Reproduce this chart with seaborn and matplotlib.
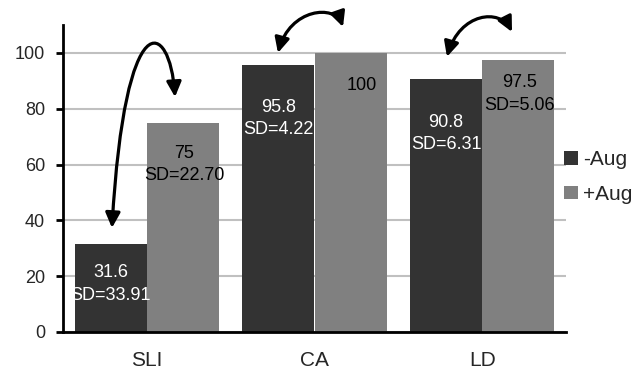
import matplotlib
matplotlib.use("Agg")
import matplotlib.pyplot as plt
import seaborn as sns
import pandas as pd
from matplotlib.patches import FancyArrowPatch, Patch
from matplotlib.path import Path

# ---- data ----
categories = ["SLI", "CA", "LD"]
series = ["-Aug", "+Aug"]
minus_aug = [31.6, 95.8, 90.8]
plus_aug = [75, 100, 97.5]
minus_sd = ["33.91", "4.22", "6.31"]
plus_sd = ["22.70", None, "5.06"]
y_ticks = [0, 20, 40, 60, 80, 100]

# ---- layout (annotation placement) ----
label_y_minus = [17.2, 76.5, 71.0]
label_y_plus = [59.9, 88.5, 85.3]
label_dx_plus = [0.01, 0.065, 0.01]
arrow_paths = [
    [(-0.208, 37.3), (-0.130, 119.0), (0.138, 111.8), (0.168, 84.2)],
    [(0.782, 100.0), (0.854, 116.0), (1.122, 117.5), (1.170, 109.3)],
    [(1.790, 98.6), (1.868, 114.5), (2.106, 116.0), (2.178, 107.5)],
]
colors = ["#333333", "#808080"]

df = pd.DataFrame({
    "group": categories * 2,
    "cond": [series[0]] * 3 + [series[1]] * 3,
    "value": minus_aug + plus_aug,
})

sns.set_style("white")
plt.rcParams["font.family"] = ["Liberation Sans", "DejaVu Sans"]

fig = plt.figure(figsize=(6.37, 3.73), dpi=100)
ax = fig.add_axes([63 / 637, 1 - 332 / 373, 503 / 637, 307 / 373])
sns.barplot(data=df, x="group", y="value", hue="cond", palette=colors,
            width=0.86, saturation=1, ax=ax, legend=False, linewidth=0,
            errorbar=None, zorder=2)

ax.set_xlim(-0.5, 2.5)
ax.set_ylim(0, 110)
ax.set_xlabel("")
ax.set_ylabel("")
ax.set_yticks(y_ticks)
ax.set_yticklabels([str(t) for t in y_ticks], fontsize=13)
ax.yaxis.grid(True, color="#c0c0c0", lw=1.5)
ax.xaxis.grid(False)
ax.set_axisbelow(True)
for s in ["top", "right"]:
    ax.spines[s].set_visible(False)
for s in ["left", "bottom"]:
    ax.spines[s].set_linewidth(2)
    ax.spines[s].set_color("black")

ax.set_xticks([-0.5, 0.5, 1.5, 2.5])
ax.set_xticklabels([])
ax.set_xticks([0, 1, 2], minor=True)
ax.set_xticklabels(categories, minor=True, fontsize=15)
ax.tick_params(axis="x", which="major", length=6, width=2, direction="out", color="black")
ax.tick_params(axis="x", which="minor", length=0, pad=14)
ax.tick_params(axis="y", length=5, width=2, direction="out", pad=8, color="black", left=True)

# bar value labels
bars_minus = ax.containers[0]
bars_plus = ax.containers[1]
for i, bar in enumerate(bars_minus):
    cx = bar.get_x() + bar.get_width() / 2
    txt = f"{minus_aug[i]:g}\nSD={minus_sd[i]}"
    ax.text(cx, label_y_minus[i], txt, ha="center", va="center", color="white",
            fontsize=13, linespacing=1.4, zorder=3)
for i, bar in enumerate(bars_plus):
    cx = bar.get_x() + bar.get_width() / 2 + label_dx_plus[i]
    txt = f"{plus_aug[i]:g}" + (f"\nSD={plus_sd[i]}" if plus_sd[i] else "")
    ax.text(cx, label_y_plus[i], txt, ha="center", va="center", color="black",
            fontsize=13, linespacing=1.4, zorder=3)

# curved double-headed arrows
codes = [Path.MOVETO, Path.CURVE4, Path.CURVE4, Path.CURVE4]
for pts in arrow_paths:
    arr = FancyArrowPatch(path=Path(pts, codes),
                          arrowstyle="<|-|>,head_length=0.45,head_width=0.22",
                          mutation_scale=20, lw=2.3, color="black",
                          transform=ax.transData, clip_on=False, zorder=4)
    ax.add_patch(arr)

handles = [Patch(facecolor=c, edgecolor="none", label=l) for c, l in zip(colors, series)]
fig.legend(handles=handles, loc="center left", bbox_to_anchor=(564 / 637, 1 - 177 / 373),
           frameon=False, fontsize=15, handlelength=0.65, handleheight=0.65,
           handletextpad=0.25, labelspacing=0.75, borderaxespad=0, borderpad=0)

fig.savefig("out.png", dpi=100)
